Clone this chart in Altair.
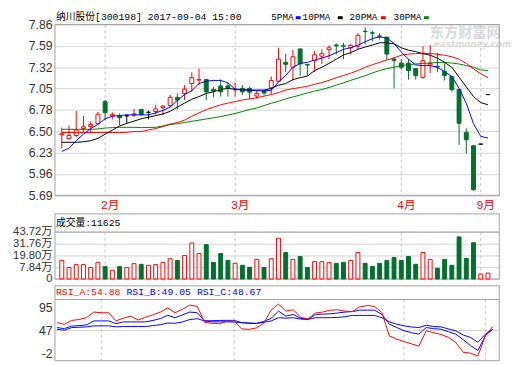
import altair as alt
import pandas as pd

# ---------------- data ----------------
TITLE = "纳川股份[300198] 2017-09-04 15:00"
LAST_VOLUME = 11625

dates = [
    "2017-01-19", "2017-01-20", "2017-01-23", "2017-01-24", "2017-01-25", "2017-01-26",
    "2017-02-03", "2017-02-06", "2017-02-07", "2017-02-08", "2017-02-09", "2017-02-10",
    "2017-02-13", "2017-02-14", "2017-02-15", "2017-02-16", "2017-02-17", "2017-02-20",
    "2017-02-21", "2017-02-22", "2017-02-23", "2017-02-24", "2017-02-27", "2017-02-28",
    "2017-03-01", "2017-03-02", "2017-03-03", "2017-03-06", "2017-03-07", "2017-03-08",
    "2017-03-09", "2017-03-10", "2017-03-13", "2017-03-14", "2017-03-15", "2017-03-16",
    "2017-03-17", "2017-03-20", "2017-03-21", "2017-03-22", "2017-03-23", "2017-03-24",
    "2017-03-27", "2017-03-28", "2017-03-29", "2017-03-30", "2017-03-31",
    "2017-04-05", "2017-04-06", "2017-04-07", "2017-04-10", "2017-04-11", "2017-04-12",
    "2017-04-13", "2017-04-14", "2017-04-17", "2017-04-18", "2017-04-19",
    "2017-09-01", "2017-09-04",
]

opens = [6.46, 6.41, 6.45, 6.54, 6.565, 6.60, 6.88, 6.70, 6.70, 6.70,
         6.707, 6.78, 6.745, 6.755, 6.807, 6.83, 6.935, 6.985, 7.11, 7.155,
         7.16, 7.035, 7.08, 7.08, 7.03, 7.05, 7.048, 6.952, 7.01, 7.056,
         7.14, 7.38, 7.317, 7.55, 7.35, 7.40, 7.458, 7.54, 7.60, 7.59,
         7.565, 7.586, 7.775, 7.755, 7.715, 7.70, 7.42, 7.37, 7.37, 7.30,
         7.19, 7.346, 7.33, 7.267, 7.20, 7.035, 6.49, 6.32, 6.34, 6.97]
highs = [6.55, 6.58, 6.76, 6.70, 6.63, 6.75, 6.90, 6.745, 6.73, 6.72,
         6.787, 6.79, 6.765, 6.84, 6.835, 6.965, 6.985, 7.09, 7.255, 7.30,
         7.17, 7.068, 7.16, 7.12, 7.12, 7.09, 7.07, 7.02, 7.03, 7.20,
         7.565, 7.49, 7.54, 7.55, 7.36, 7.525, 7.545, 7.595, 7.62, 7.63,
         7.61, 7.75, 7.823, 7.78, 7.75, 7.70, 7.45, 7.42, 7.42, 7.30,
         7.585, 7.599, 7.50, 7.366, 7.20, 7.04, 6.54, 6.33, 6.34, 6.97]
lows = [6.29, 6.40, 6.43, 6.49, 6.48, 6.59, 6.645, 6.655, 6.58, 6.60,
        6.687, 6.705, 6.655, 6.715, 6.71, 6.81, 6.78, 6.90, 7.005, 7.09,
        6.90, 6.936, 6.945, 6.945, 6.945, 6.965, 6.915, 6.915, 6.96, 6.977,
        7.13, 7.255, 7.15, 7.21, 7.21, 7.255, 7.36, 7.42, 7.48, 7.42,
        7.485, 7.545, 7.607, 7.65, 7.67, 7.41, 7.05, 7.285, 7.16, 7.16,
        7.17, 7.243, 7.255, 7.15, 7.005, 6.33, 6.22, 5.75, 6.34, 6.97]
closes = [6.47, 6.45, 6.52, 6.56, 6.59, 6.72, 6.74, 6.72, 6.675, 6.70,
          6.724, 6.715, 6.745, 6.787, 6.824, 6.935, 6.90, 7.04, 7.185, 7.16,
          7.005, 7.015, 7.005, 7.05, 7.035, 7.005, 7.00, 6.985, 6.99, 7.15,
          7.42, 7.355, 7.45, 7.36, 7.345, 7.475, 7.49, 7.565, 7.59, 7.585,
          7.595, 7.723, 7.77, 7.75, 7.71, 7.485, 7.405, 7.317, 7.275, 7.213,
          7.40, 7.366, 7.32, 7.213, 7.035, 6.605, 6.395, 5.76, 6.34, 6.97]

# volume in 万
volumes = [14.8, 7.5, 10.5, 10.5, 7.5, 12.8, 8.5, 4.85, 8.5, 7.5,
           11.5, 10.8, 9.8, 10.5, 12.8, 16.5, 14.8, 19.8, 32.5, 21.8,
           30.8, 12.8, 21.8, 14.8, 11.8, 9.8, 7.8, 15.8, 7.5, 16.5,
           37.4, 22.8, 15.8, 18.8, 7.5, 13.5, 13.5, 12.5, 11.8, 12.8,
           14.8, 22.8, 11.8, 8.8, 11.8, 14.8, 17.8, 14.8, 18.8, 10.8,
           22.8, 15.8, 6.8, 15.8, 9.8, 38.7, 16.8, 32.8, 0.86, 1.86]

ma5 = [6.247, 6.289, 6.384, 6.467, 6.538, 6.591, 6.662, 6.695, 6.703, 6.712,
       6.712, 6.712, 6.712, 6.737, 6.769, 6.811, 6.895, 6.97, 7.02, 7.11,
       7.14, 7.15, 7.15, 7.12, 7.039, 7.027, 7.027, 7.018, 7.018, 7.025,
       7.13, 7.213, 7.317, 7.366, 7.379, 7.409, 7.433, 7.462, 7.503, 7.545,
       7.565, 7.599, 7.64, 7.682, 7.702, 7.69, 7.62, 7.51, 7.42, 7.346,
       7.338, 7.338, 7.317, 7.26, 7.20, 7.05, 6.86, 6.60, 6.44, 6.417]
ma10 = [6.364, 6.364, 6.364, 6.37, 6.384, 6.413, 6.467, 6.517, 6.571, 6.604,
        6.633, 6.662, 6.682, 6.703, 6.724, 6.757, 6.811, 6.861, 6.911, 6.944,
        6.985, 7.006, 7.035, 7.048, 7.039, 7.035, 7.027, 7.027, 7.027, 7.048,
        7.089, 7.11, 7.16, 7.185, 7.205, 7.275, 7.317, 7.366, 7.42, 7.474,
        7.503, 7.545, 7.574, 7.599, 7.628, 7.628, 7.615, 7.565, 7.533, 7.516,
        7.49, 7.47, 7.433, 7.379, 7.317, 7.192, 7.068, 6.944, 6.869, 6.84]
ma20 = [6.488, 6.488, 6.488, 6.488, 6.488, 6.488, 6.488, 6.488, 6.488, 6.49,
        6.50, 6.50, 6.52, 6.538, 6.563, 6.595, 6.615, 6.645, 6.695, 6.737,
        6.778, 6.811, 6.84, 6.861, 6.881, 6.902, 6.915, 6.93, 6.95, 6.97,
        6.995, 7.027, 7.045, 7.06, 7.076, 7.101, 7.122, 7.151, 7.185, 7.213,
        7.242, 7.275, 7.317, 7.35, 7.379, 7.409, 7.435, 7.47, 7.485, 7.49,
        7.495, 7.492, 7.483, 7.47, 7.45, 7.42, 7.366, 7.297, 7.234, 7.185]
ma30 = [6.529, 6.529, 6.529, 6.529, 6.529, 6.533, 6.545, 6.55, 6.554, 6.554,
        6.554, 6.55, 6.552, 6.554, 6.571, 6.59, 6.60, 6.615, 6.63, 6.645,
        6.66, 6.675, 6.69, 6.71, 6.73, 6.755, 6.78, 6.80, 6.83, 6.86,
        6.885, 6.915, 6.94, 6.965, 6.99, 7.015, 7.035, 7.06, 7.09, 7.12,
        7.15, 7.18, 7.21, 7.245, 7.275, 7.30, 7.317, 7.338, 7.35, 7.359,
        7.366, 7.372, 7.379, 7.379, 7.371, 7.359, 7.338, 7.317, 7.284, 7.275]

rsi_a = [63.4, 59.8, 68, 70, 74, 86, 84.5, 84.5, 67, 73,
         77, 69, 75, 80, 86, 95, 84.5, 92, 101, 98,
         64, 62, 61, 66, 67, 50, 49, 52, 62, 90,
         103, 88, 91, 75, 71, 84, 86, 90, 91, 88,
         87, 97, 100, 98, 85, 35, 28, 23, 18, 13,
         46, 42, 38, 32, 21, 0, -2, -8, 35, 54.88]
rsi_b = [52.8, 50.6, 56, 57, 58.5, 67, 67, 67, 61.3, 64.8,
         65, 64.8, 65, 68, 72, 79, 74, 80, 86, 84.5,
         67, 67.5, 68, 68.2, 68.2, 63.4, 62, 61.3, 66, 72.5,
         88, 77.4, 80.9, 72.5, 70.3, 80.9, 81.5, 82.3, 84, 85.9,
         87, 90, 90.1, 90, 81, 60, 53, 46, 42, 38.7,
         52.8, 50.5, 49.2, 44, 38.7, 27, 14, 3.7, 35.3, 49.05]
rsi_c = [49.2, 47.1, 52.8, 53.5, 54.3, 56.4, 56.4, 56.4, 54.3, 55,
         55, 55, 55, 57, 59, 62.5, 62, 64.8, 70, 71.8,
         67, 65, 65, 65, 64.5, 63.4, 62.5, 62, 64, 67,
         73.9, 73, 73.9, 71, 70.3, 73.9, 73.9, 74, 74.5, 76,
         78.8, 78.8, 78.8, 78.8, 73.9, 65, 60, 56.4, 54, 52.8,
         57.7, 55, 54.3, 50, 45.8, 37, 31.7, 21.2, 38.7, 48.67]

price_ticks = [5.69, 5.9613, 6.2325, 6.5038, 6.7751, 7.0463, 7.3176, 7.5888, 7.86]
vol_ticks = [7.84, 19.80, 31.76, 43.72]
rsi_ticks = [-2, 46.5, 95]

ma_names = ["5PMA", "10PMA", "20PMA", "30PMA"]
rsi_names = ["RSI_A", "RSI_B", "RSI_C"]

# ---------------- styles / layout ----------------
RED = "#ff0000"
CGREEN = "#00712d"
BLACK = "#000000"
BLUE = "#0000ff"
MGREEN = "#008000"
FRAME = "#a0a0a0"
GRID = "#d4d4d4"
DASH = "#c4c4c4"
LABEL = "#333333"
SANS = "Liberation Sans, Noto Sans CJK SC"
MONO = "Liberation Mono, Noto Sans CJK SC"
ma_colors = [BLUE, BLACK, RED, MGREEN]
rsi_colors = [RED, BLUE, BLUE]

W = 454
HA, HB, HC = 187.5, 78, 76.5
X_DOMAIN = [-0.265, 59.89]
P_DOMAIN = [5.69, 8.0217]
VOL_BASE = -4.12
V_DOMAIN = [VOL_BASE, 73.62]
R_DOMAIN = [-18.13, 142.14]

n = len(dates)
idx = list(range(n))


def direction(o, c):
    return "up" if c > o else ("down" if c < o else "flat")


candles = pd.DataFrame({
    "i": idx, "date": dates, "open": opens, "high": highs, "low": lows,
    "close": closes, "vol": volumes,
    "dir": [direction(o, c) for o, c in zip(opens, closes)],
    "vdir": ["up" if c >= o else "down" for o, c in zip(opens, closes)],
})

month_idx = [i for i in range(1, n) if dates[i][5:7] != dates[i - 1][5:7]]
month_lab = [f"{int(dates[i][5:7])}月" for i in month_idx]
months = pd.DataFrame({"i": month_idx, "label": month_lab})

one = pd.DataFrame({"k": [0]})

xs = alt.Scale(domain=X_DOMAIN, nice=False, zero=False)
dir_stroke = alt.Scale(domain=["up", "down", "flat"], range=[RED, CGREEN, BLACK])
dir_fill = alt.Scale(domain=["up", "down", "flat"], range=["#ffffff", CGREEN, BLACK])


def hline(y, x=0, x2=W, color=FRAME):
    return alt.Chart(one).mark_rule(color=color, strokeWidth=1).encode(
        x=alt.value(x), x2=alt.value(x2), y=alt.value(y))


def vline(x, y, y2, color=FRAME):
    return alt.Chart(one).mark_rule(color=color, strokeWidth=1).encode(
        x=alt.value(x), y=alt.value(y), y2=alt.value(y2))


def label(text, x, y, color=BLACK, size=10, font=MONO, **kw):
    return alt.Chart(one).mark_text(text=text, align="left", baseline="middle",
                                    font=font, fontSize=size, color=color, **kw).encode(
        x=alt.value(x), y=alt.value(y))


# ---------------- panel A: price ----------------
yaxA = alt.Axis(values=price_ticks, format=".2f", title=None, domain=False, ticks=False,
                grid=True, gridColor=GRID, labelFont=SANS, labelFontSize=12.5, labelColor=LABEL,
                labelPadding=3, minExtent=48, labelOverlap=False)
ysP = alt.Scale(domain=P_DOMAIN, nice=False, zero=False)
XA = alt.X("i:Q", scale=xs, axis=None)

TOP_A = 13
layersA = [
    label("东方财富网", 383, 21.5, color="#d9d9d9", size=14.5, font=SANS, fontWeight="bold"),
    label("eastmoney.com", 387, 33, color="#d9d9d9", size=9, font="DejaVu Sans", fontWeight="bold", fontStyle="italic"),
    alt.Chart(months).mark_rule(color=DASH, strokeDash=[3, 3], strokeWidth=1).encode(
        x=XA, y=alt.value(TOP_A), y2=alt.value(HA)),
    hline(TOP_A), hline(HA), vline(0, TOP_A, HA), vline(W, TOP_A, HA),
    alt.Chart(candles).mark_rule(strokeWidth=1).encode(
        x=XA, y=alt.Y("low:Q", scale=ysP, axis=yaxA), y2="high:Q",
        color=alt.Color("dir:N", scale=dir_stroke, legend=None)),
    alt.Chart(candles).mark_bar(size=4, strokeWidth=1).encode(
        x=XA, y=alt.Y("open:Q", scale=ysP, axis=yaxA), y2="close:Q",
        stroke=alt.Stroke("dir:N", scale=dir_stroke, legend=None),
        fill=alt.Fill("dir:N", scale=dir_fill, legend=None)),
]
for name, vals, col in reversed(list(zip(ma_names, [ma5, ma10, ma20, ma30], ma_colors))):
    dfm = pd.DataFrame({"i": idx, "v": vals})
    layersA.append(alt.Chart(dfm).mark_line(color=col, strokeWidth=1).encode(
        x=XA, y=alt.Y("v:Q", scale=ysP, axis=yaxA)))

# month labels under the price panel
layersA.append(alt.Chart(months).mark_text(align="left", baseline="middle", dx=-4,
                                           font=SANS, fontSize=12, color=RED).encode(
    x=XA, y=alt.value(HA + 10.5), text="label:N"))

layersA.append(label(TITLE, 1, 5.5))
leg_text_x = [221, 253, 301, 346]
leg_mark_x = [246, 289, 333, 377]
for name, col, tx, mx in zip(ma_names, ma_colors, leg_text_x, leg_mark_x):
    layersA.append(label(name, tx, 5.5, size=9.5))
    layersA.append(alt.Chart(one).mark_rule(color=col, strokeWidth=3).encode(
        x=alt.value(mx), x2=alt.value(mx + 5), y=alt.value(6)))

panelA = alt.layer(*layersA).properties(width=W, height=HA)

# ---------------- panel B: volume ----------------
ysV = alt.Scale(domain=V_DOMAIN, nice=False, zero=False)
yaxB = alt.Axis(values=[VOL_BASE] + vol_ticks, title=None, domain=False, ticks=False,
                labelExpr="datum.value < 0 ? '0' : format(datum.value, '.2f') + '万'",
                grid=True, gridColor=GRID, labelFont=SANS, labelFontSize=11.5, labelColor=LABEL,
                labelPadding=3, minExtent=48, labelOverlap=False)
XB = alt.X("i:Q", scale=xs, axis=None)
TOP_B = 11.5
INNER_B = 30
layersB = [
    alt.Chart(months).mark_rule(color=DASH, strokeDash=[3, 3], strokeWidth=1).encode(
        x=XB, y=alt.value(INNER_B), y2=alt.value(HB)),
    hline(TOP_B), hline(INNER_B), hline(HB), vline(0, TOP_B, HB), vline(W, TOP_B, HB),
    alt.Chart(candles).mark_bar(size=4, strokeWidth=1).encode(
        x=XB, y=alt.Y("vol:Q", scale=ysV, axis=yaxB), y2=alt.datum(VOL_BASE),
        stroke=alt.Stroke("vdir:N", scale=dir_stroke, legend=None),
        fill=alt.Fill("vdir:N", scale=dir_fill, legend=None)),
    label(f"成交量:{LAST_VOLUME}", 1, 20.5),
]
panelB = alt.layer(*layersB).properties(width=W, height=HB)

# ---------------- panel C: RSI ----------------
ysR = alt.Scale(domain=R_DOMAIN, nice=False, zero=False)
yaxC = alt.Axis(values=rsi_ticks, title=None, domain=False, ticks=False,
                labelExpr="datum.value < 0 ? '-' + format(-datum.value, '.0f') : format(datum.value, '.0f')",
                grid=False, labelFont=SANS, labelFontSize=12.5, labelColor=LABEL,
                labelPadding=3, minExtent=48, labelOverlap=False)
XC = alt.X("i:Q", scale=xs, axis=None)
INNER_C = 14
layersC = [
    alt.Chart(months).mark_rule(color=DASH, strokeDash=[3, 3], strokeWidth=1).encode(
        x=XC, y=alt.value(INNER_C), y2=alt.value(HC)),
    hline(0), hline(INNER_C), hline(HC), vline(0, 0, HC), vline(W, 0, HC),
]
for name, vals, col in reversed(list(zip(rsi_names, [rsi_a, rsi_b, rsi_c], rsi_colors))):
    dfr = pd.DataFrame({"i": idx, "v": vals})
    layersC.append(alt.Chart(dfr).mark_line(color=col, strokeWidth=1).encode(
        x=XC, y=alt.Y("v:Q", scale=ysR, axis=yaxC)))
# mid grid line of the RSI panel (drawn under the lines)
mid = pd.DataFrame({"v": [rsi_ticks[1]]})
layersC.insert(0, alt.Chart(mid).mark_rule(color=GRID, strokeWidth=1).encode(
    x=alt.value(0), x2=alt.value(W), y=alt.Y("v:Q", scale=ysR, axis=yaxC)))
rsi_text_x = [1, 73, 145]
for name, vals, col, tx in zip(rsi_names, [rsi_a, rsi_b, rsi_c], rsi_colors, rsi_text_x):
    layersC.append(label(f"{name}:{vals[-1]:.2f}", tx, 6.5, color=col))
panelC = alt.layer(*layersC).properties(width=W, height=HC)

chart = alt.vconcat(panelA, panelB, panelC, spacing=7, bounds="flush").properties(
    padding=0).configure_view(stroke=None)

chart.save("out.html", embed_options={"renderer": "svg", "actions": False})
